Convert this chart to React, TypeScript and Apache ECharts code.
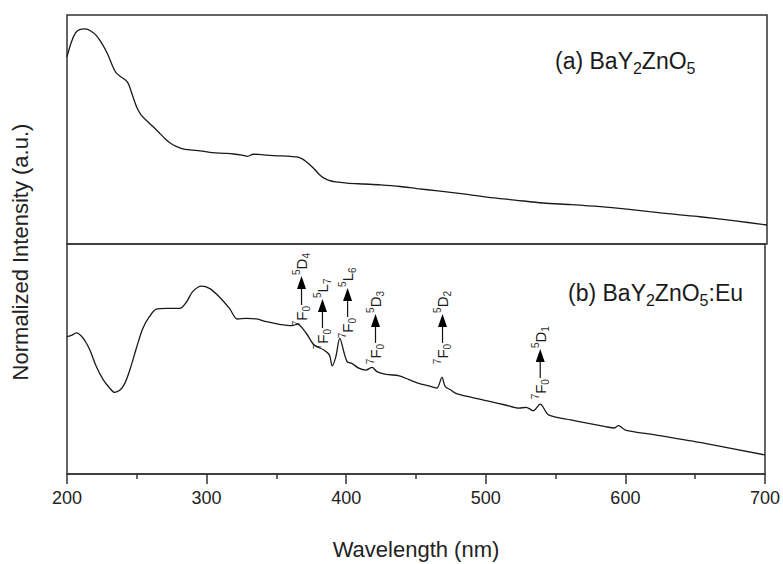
import React, { useEffect, useRef } from 'react';
import * as echarts from 'echarts';

const X_MIN = 200;
const X_MAX = 700;
const X_STEP = 100;

// (a) BaY2ZnO5 excitation spectrum (normalized, 0-100 panel units)
const TOP_WL = [200, 203, 206, 209, 213, 217, 221, 225, 229, 232, 235, 239, 242, 244, 247, 250, 253, 257, 261, 266, 270, 274, 278, 282, 288, 295, 304, 312, 319, 325, 329, 333, 337, 343, 350, 357, 364, 368, 371, 374, 377, 380, 383, 387, 392, 400, 412, 424, 438, 450, 465, 483, 500, 520, 540, 560, 581, 600, 616, 635, 652, 676, 700];
const TOP_VAL = [81.7, 88, 92.1, 93.6, 93.9, 93.0, 91.0, 87.5, 83.0, 78.5, 74.8, 72.8, 71.5, 69.8, 64.5, 59.5, 56.3, 53.8, 51.5, 48.5, 46.0, 44.0, 42.6, 41.7, 41.1, 40.7, 39.9, 39.6, 39.3, 38.8, 38.3, 39.2, 39.1, 38.8, 38.5, 38.4, 38.0, 37.2, 35.8, 34.3, 32.5, 30.5, 29.0, 27.8, 27.1, 26.6, 26.2, 25.8, 25.1, 24.2, 23.2, 21.9, 20.5, 19.2, 17.9, 17.2, 16.3, 15.2, 14.1, 12.9, 11.9, 10.2, 8.3];

// (b) BaY2ZnO5:Eu excitation spectrum
const BOT_WL = [200, 203.6, 207, 210.7, 213.5, 216.4, 221, 226, 230.7, 234, 238, 241.4, 245, 250, 254.3, 259, 264, 271.4, 280.7, 285.7, 290, 296.4, 302, 309, 316.4, 322, 328.6, 335.7, 343, 352, 361.4, 365, 371.4, 377, 384, 388, 390, 392.6, 395.4, 398.6, 400.7, 404, 409, 414, 418.6, 422, 428.6, 438, 445, 452, 461, 465, 468.6, 471, 475, 478.6, 490, 502, 514, 523.6, 529, 534, 539, 545, 561, 585.7, 592, 595, 600, 621.4, 657, 700];
const BOT_VAL = [59.7, 60.4, 61.4, 59.7, 57.3, 53.9, 46.7, 40.9, 37.3, 35.5, 36.5, 39.4, 45.2, 55.3, 63.3, 68.4, 71.7, 72.0, 72.0, 74.9, 79.3, 81.7, 80.7, 77.1, 72.0, 67.4, 67.7, 67.4, 66.2, 65.1, 64.5, 65.2, 61.2, 56.1, 53.9, 51.7, 47.0, 51.0, 59.0, 52.5, 48.8, 48.1, 46.0, 45.2, 46.4, 44.5, 43.3, 42.7, 41.0, 39.4, 38.0, 37.4, 42.0, 38.0, 36.5, 35.1, 33.3, 31.7, 30.0, 28.6, 29.0, 27.5, 30.4, 25.7, 23.5, 20.6, 20.0, 21.0, 19.1, 17.0, 13.3, 8.3];

// Transition annotations (wavelength position, arrow foot value in panel b)
const ANNOT_WL = [368, 383, 401, 421, 469, 539];
const ANNOT_BASE = [73.5, 63.5, 68.3, 57.0, 57.0, 41.7];
const ANNOT_UPPER = [['5', 'D', '4'], ['5', 'L', '7'], ['5', 'L', '6'], ['5', 'D', '3'], ['5', 'D', '2'], ['5', 'D', '1']];
const ANNOT_LOWER = ['7', 'F', '0'];

const X_TITLE = 'Wavelength (nm)';
const Y_TITLE = 'Normalized Intensity (a.u.)';
const PANEL_A = ['(a) BaY', '2', 'ZnO', '5'];
const PANEL_B = ['(b) BaY', '2', 'ZnO', '5', ':Eu'];

const FONT = '"Liberation Sans", Arial, Helvetica, sans-serif';
const INK = '#1a1a1a';
const FRAME = '#333333';

export default function App() {
  const ref = useRef<HTMLDivElement | null>(null);

  useEffect(() => {
    if (!ref.current) return;
    const chart = echarts.init(ref.current, undefined, { renderer: 'svg' });

    const topData = TOP_WL.map((w, i) => [w, TOP_VAL[i]]);
    const botData = BOT_WL.map((w, i) => [w, BOT_VAL[i]]);

    const panelRich = {
      m: { fontSize: 23, lineHeight: 30, verticalAlign: 'middle', fontFamily: FONT, fill: INK },
      s: { fontSize: 16, lineHeight: 14, verticalAlign: 'bottom', fontFamily: FONT, fill: INK },
    };
    const annRich = {
      p: { fontSize: 10, lineHeight: 10, verticalAlign: 'top', fontFamily: FONT, fill: '#333' },
      m: { fontSize: 15, lineHeight: 20, verticalAlign: 'middle', fontFamily: FONT, fill: INK },
      b: { fontSize: 10, lineHeight: 10, verticalAlign: 'bottom', fontFamily: FONT, fill: '#333' },
    };

    const panelText = (parts: string[]) =>
      parts.map((p, i) => (i % 2 === 0 ? `{m|${p}}` : `{s|${p}}`)).join('');

    chart.setOption({
      animation: false,
      backgroundColor: '#ffffff',
      grid: [
        { left: 67, top: 15, width: 700, height: 229, show: true, borderColor: FRAME, borderWidth: 1.5, backgroundColor: 'transparent' },
        { left: 67, top: 244, width: 700, height: 230, show: true, borderColor: FRAME, borderWidth: 1.5, backgroundColor: 'transparent' },
      ],
      xAxis: [
        {
          type: 'value', gridIndex: 0, min: X_MIN, max: X_MAX, interval: X_STEP,
          axisLine: { show: false }, axisTick: { show: false }, axisLabel: { show: false }, splitLine: { show: false },
        },
        {
          type: 'value', gridIndex: 1, min: X_MIN, max: X_MAX, interval: X_STEP,
          axisLine: { show: true, onZero: false, lineStyle: { color: FRAME, width: 1.5 } },
          axisTick: { show: true, inside: false, length: 10, lineStyle: { color: FRAME, width: 1.5 } },
          minorTick: { show: true, splitNumber: 2, length: 5, lineStyle: { color: FRAME, width: 1.5 } },
          axisLabel: { show: true, fontSize: 18, color: '#222', margin: 15, fontFamily: FONT },
          splitLine: { show: false },
          minorSplitLine: { show: false },
          name: X_TITLE,
          nameLocation: 'middle',
          nameGap: 64,
          nameTextStyle: { fontSize: 22, color: '#222', fontFamily: FONT },
        },
      ],
      yAxis: [
        { type: 'value', gridIndex: 0, min: 0, max: 100, show: false },
        { type: 'value', gridIndex: 1, min: 0, max: 100, show: false },
      ],
      series: [
        {
          type: 'line', xAxisIndex: 0, yAxisIndex: 0, data: topData, symbol: 'none', showSymbol: false,
          smooth: 0.3, lineStyle: { color: INK, width: 1.3 },
        },
        {
          type: 'line', xAxisIndex: 1, yAxisIndex: 1, data: botData, symbol: 'none', showSymbol: false,
          smooth: 0.3, lineStyle: { color: INK, width: 1.3 },
        },
      ],
    });

    const elements: any[] = [
      {
        type: 'text', x: 20, y: 252, rotation: Math.PI / 2,
        style: { text: Y_TITLE, fontSize: 22, fontFamily: FONT, fill: '#222', align: 'center', verticalAlign: 'middle' },
      },
      {
        type: 'text', x: 555, y: 61,
        style: { text: panelText(PANEL_A), rich: panelRich, align: 'left', verticalAlign: 'middle', fill: INK },
      },
      {
        type: 'text', x: 568, y: 293,
        style: { text: panelText(PANEL_B), rich: panelRich, align: 'left', verticalAlign: 'middle', fill: INK },
      },
    ];

    ANNOT_WL.forEach((wl, i) => {
      const pt = chart.convertToPixel({ gridIndex: 1 }, [wl, ANNOT_BASE[i]]) as number[];
      const px = pt[0];
      const py = pt[1];
      const up = ANNOT_UPPER[i];
      elements.push(
        {
          type: 'line',
          shape: { x1: px, y1: py, x2: px, y2: py - 17 },
          style: { stroke: '#111', lineWidth: 1.2 },
        },
        {
          type: 'polygon',
          shape: { points: [[px - 4.5, py - 16], [px + 4.5, py - 16], [px, py - 29]] },
          style: { fill: '#000' },
        },
        {
          type: 'text', x: px, y: py - 30, rotation: Math.PI / 2,
          style: { text: `{p|${up[0]}}{m|${up[1]}}{b|${up[2]}}`, rich: annRich, align: 'left', verticalAlign: 'middle', fill: INK },
        },
        {
          type: 'text', x: px, y: py + 1, rotation: Math.PI / 2,
          style: { text: `{p|${ANNOT_LOWER[0]}}{m|${ANNOT_LOWER[1]}}{b|${ANNOT_LOWER[2]}}`, rich: annRich, align: 'right', verticalAlign: 'middle', fill: INK },
        },
      );
    });

    chart.setOption({ graphic: { elements } });

    return () => {
      chart.dispose();
    };
  }, []);

  return (
    <div
      ref={ref}
      style={{ position: 'absolute', left: 0, top: 0, width: 783, height: 564, background: '#fff' }}
    />
  );
}
